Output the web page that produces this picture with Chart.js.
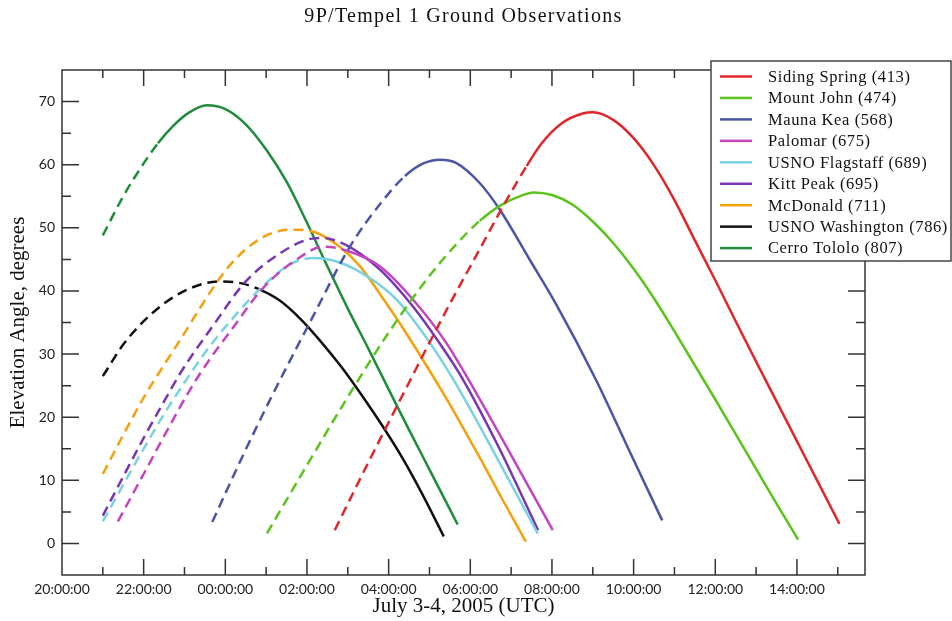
<!DOCTYPE html>
<html><head><meta charset="utf-8">
<script src="https://cdn.jsdelivr.net/npm/chart.js@4.4.0/dist/chart.umd.min.js"></script>
<style>html,body{margin:0;padding:0;background:#fff}canvas{display:block}</style>
</head><body>
<canvas id="c" width="952" height="621"></canvas>
<script>
// ---- data (x = hours after 20:00 UTC July 3, y = elevation degrees) ----
const chartTitle = '9P/Tempel 1 Ground Observations';
const xAxisTitle = 'July 3-4, 2005 (UTC)';
const yAxisTitle = 'Elevation Angle, degrees';
const stations = ['Siding Spring (413)', 'Mount John (474)', 'Mauna Kea (568)', 'Palomar (675)',
  'USNO Flagstaff (689)', 'Kitt Peak (695)', 'McDonald (711)', 'USNO Washington (786)', 'Cerro Tololo (807)'];
const colors = ['#e0262a', '#5cc21c', '#4a55a8', '#c244bf', '#78d2e2', '#7636b6', '#f5a00c', '#111111', '#1f8c3c'];
const xTickValues = [0, 2, 4, 6, 8, 10, 12, 14, 16, 18];
const yTickValues = [0, 10, 20, 30, 40, 50, 60, 70];

const sidingSpringT = [6.68, 7.5, 8.27, 9.42, 10.23, 10.75, 11.38, 11.75, 12.25, 12.75, 13.0, 13.5, 14.0, 14.5, 15.0, 15.5, 16.0, 16.5, 17.0, 17.5, 18.0, 18.5, 19.04];
const sidingSpringE = [2.1, 12.8, 22.6, 37.0, 46.6, 52.8, 59.8, 63.4, 66.6, 68.1, 68.3, 67.1, 64.2, 59.9, 54.4, 48.0, 41.7, 35.2, 28.8, 22.5, 16.2, 9.9, 3.1];
const mountJohnT = [5.02, 6.0, 7.0, 8.0, 9.0, 9.66, 10.23, 10.75, 11.25, 11.55, 12.0, 12.5, 13.0, 13.5, 14.0, 14.5, 15.0, 15.5, 16.0, 16.5, 17.0, 17.5, 18.03];
const mountJohnE = [1.6, 12.4, 23.2, 33.4, 42.4, 47.4, 51.1, 53.6, 55.1, 55.6, 55.2, 53.7, 51.0, 47.6, 43.5, 38.8, 33.6, 28.2, 22.8, 17.3, 11.8, 6.3, 0.6];
const maunaKeaT = [3.68, 4.4, 5.09, 6.15, 7.05, 7.87, 8.4, 8.85, 9.25, 9.65, 10.23, 10.72, 11.46, 12.11, 13.08, 13.9, 14.7];
const maunaKeaE = [3.4, 13.5, 22.7, 36.0, 47.0, 54.4, 58.2, 60.2, 60.8, 60.3, 57.1, 52.9, 44.9, 37.8, 25.9, 14.6, 3.65];
const palomarT = [1.37, 2.0, 2.5, 3.13, 3.6, 4.1, 4.93, 5.75, 6.4, 6.97, 7.78, 8.6, 9.42, 9.96, 11.0, 12.02];
const palomarE = [3.5, 11.0, 17.0, 24.3, 29.0, 33.4, 40.5, 45.0, 47.0, 46.4, 43.9, 38.6, 31.7, 25.9, 14.0, 2.1];
const flagstaffT = [1.0, 1.5, 2.0, 2.5, 3.0, 3.5, 4.0, 4.77, 5.58, 6.15, 6.8, 7.5, 8.2, 8.9, 9.59, 10.6, 11.65];
const flagstaffE = [3.5, 9.3, 15.0, 20.5, 25.5, 30.2, 34.3, 39.8, 44.2, 45.2, 44.5, 42.2, 38.6, 32.8, 25.9, 14.2, 1.6];
const kittPeakT = [1.0, 1.5, 2.0, 2.5, 2.9, 3.7, 4.5, 5.35, 6.0, 6.35, 6.95, 7.8, 8.6, 9.25, 9.8, 10.7, 11.66];
const kittPeakE = [4.4, 10.6, 16.7, 22.5, 27.0, 34.5, 41.5, 46.0, 48.1, 48.4, 47.3, 43.3, 37.5, 31.7, 26.2, 15.2, 2.1];
const mcDonaldT = [1.0, 1.5, 2.0, 2.5, 2.9, 3.4, 4.0, 4.5, 4.95, 5.4, 5.7, 6.2, 6.8, 7.3, 7.8, 8.3, 8.8, 9.3, 9.8, 10.3, 10.8, 11.36];
const mcDonaldE = [11.0, 17.2, 23.1, 28.3, 32.3, 37.5, 43.2, 46.6, 48.6, 49.6, 49.7, 49.3, 47.0, 43.9, 39.4, 34.6, 29.5, 24.2, 18.6, 12.8, 6.8, 0.3];
const washingtonT = [1.0, 1.5, 2.0, 2.5, 3.0, 3.5, 3.9, 4.4, 4.85, 5.35, 5.85, 6.35, 6.85, 7.35, 7.85, 8.35, 8.85, 9.35];
const washingtonE = [26.5, 31.5, 35.2, 38.0, 40.0, 41.2, 41.5, 41.2, 40.2, 38.4, 35.5, 31.9, 27.9, 23.4, 18.6, 13.4, 7.5, 1.1];
const cerroTololoT = [1.0, 1.5, 2.0, 2.35, 2.7, 3.1, 3.55, 4.0, 4.5, 5.0, 5.5, 6.0, 6.5, 7.0, 7.5, 8.0, 8.5, 9.0, 9.69];
const cerroTololoE = [48.8, 55.0, 60.2, 63.4, 66.0, 68.2, 69.4, 68.8, 66.4, 62.4, 57.3, 50.8, 43.9, 37.2, 30.9, 24.4, 18.0, 11.7, 3.0];

// time at which each curve changes from dashed to solid
const solidFrom = [11.38, 10.23, 8.4, 6.97, 6.15, 6.95, 6.2, 4.85, 2.35];

const seriesT = [sidingSpringT, mountJohnT, maunaKeaT, palomarT, flagstaffT, kittPeakT, mcDonaldT, washingtonT, cerroTololoT];
const seriesE = [sidingSpringE, mountJohnE, maunaKeaE, palomarE, flagstaffE, kittPeakE, mcDonaldE, washingtonE, cerroTololoE];

const SERIF = '"Liberation Serif", "Times New Roman", serif';
const SANS = 'Lato, "Open Sans", sans-serif';
const FRAME = '#333333';

const framePlugin = {
  id: 'frame',
  afterDatasetsDraw(chart) {
    const {ctx, chartArea: a, scales: {x, y}} = chart;
    ctx.save();
    ctx.strokeStyle = FRAME;
    ctx.lineWidth = 1.5;
    ctx.strokeRect(a.left, a.top, a.right - a.left, a.bottom - a.top);
    ctx.beginPath();
    for (let h = 1; h < x.max; h += 1) {
      const px = x.getPixelForValue(h);
      const len = h % 2 === 0 ? 16 : 8;
      ctx.moveTo(px, a.bottom); ctx.lineTo(px, a.bottom - len);
      ctx.moveTo(px, a.top); ctx.lineTo(px, a.top + len);
    }
    for (let v = 0; v < y.max; v += 5) {
      const py = y.getPixelForValue(v);
      const len = v % 10 === 0 ? 17 : 9;
      ctx.moveTo(a.left, py); ctx.lineTo(a.left + len, py);
      ctx.moveTo(a.right, py); ctx.lineTo(a.right - len, py);
    }
    ctx.stroke();
    ctx.restore();
  }
};

const titleLegendPlugin = {
  id: 'titleLegend',
  afterDraw(chart) {
    const {ctx, chartArea: a} = chart;
    ctx.save();
    ctx.fillStyle = '#111';
    ctx.font = '20px ' + SERIF;
    if ('letterSpacing' in ctx) ctx.letterSpacing = '1.3px';
    ctx.textAlign = 'center';
    ctx.textBaseline = 'middle';
    ctx.fillText(chartTitle, (a.left + a.right) / 2, 17);
    // legend box
    const bx = 711, by = 61, bw = 241, bh = 200;
    ctx.fillStyle = '#fff';
    ctx.fillRect(bx, by, bw, bh);
    ctx.strokeStyle = '#444';
    ctx.lineWidth = 1.5;
    ctx.strokeRect(bx, by, bw - 1, bh);
    ctx.font = '16.5px ' + SERIF;
    if ('letterSpacing' in ctx) ctx.letterSpacing = '0.6px';
    ctx.textAlign = 'left';
    chart.data.datasets.forEach((ds, i) => {
      const yy = 76.5 + i * 21.45;
      ctx.strokeStyle = ds.borderColor;
      ctx.lineWidth = 2.5;
      ctx.beginPath();
      ctx.moveTo(720, yy); ctx.lineTo(752, yy);
      ctx.stroke();
      ctx.fillStyle = '#111';
      ctx.fillText(ds.label, 768, yy + 1);
    });
    ctx.restore();
  }
};

new Chart(document.getElementById('c'), {
  type: 'line',
  data: {
    datasets: stations.map((name, i) => ({
      label: name,
      data: seriesT[i].map((t, j) => ({x: t, y: seriesE[i][j]})),
      borderColor: colors[i],
      backgroundColor: colors[i],
      borderWidth: 2.5,
      pointRadius: 0,
      fill: false,
      cubicInterpolationMode: 'monotone',
      segment: {
        borderDash: c => (c.p0.parsed.x < solidFrom[i] - 1e-9 ? [10, 6] : [])
      }
    }))
  },
  options: {
    responsive: false,
    animation: false,
    devicePixelRatio: 1,
    layout: {padding: {top: 70, right: 87, left: 0, bottom: 0}},
    plugins: {legend: {display: false}, title: {display: false}, tooltip: {enabled: false}},
    scales: {
      x: {
        type: 'linear', min: 0, max: 19.667,
        afterBuildTicks: s => { s.ticks = xTickValues.map(v => ({value: v})); },
        afterFit: s => { s.height = 46; },
        ticks: {
          autoSkip: false, maxRotation: 0, padding: 6, color: '#222',
          font: {family: SANS, size: 14},
          callback: v => String((20 + v) % 24).padStart(2, '0') + ':00:00'
        },
        grid: {display: false, drawTicks: false},
        border: {display: false},
        title: {display: true, text: xAxisTitle, color: '#111', font: {family: SERIF, size: 21}, padding: {top: 0, bottom: 2}}
      },
      y: {
        type: 'linear', min: -5, max: 75,
        afterBuildTicks: s => { s.ticks = yTickValues.map(v => ({value: v})); },
        afterFit: s => { s.width = 62; },
        ticks: {padding: 7, color: '#222', font: {family: SANS, size: 14}},
        grid: {display: false, drawTicks: false},
        border: {display: false},
        title: {display: true, text: yAxisTitle, color: '#111', font: {family: SERIF, size: 21}, padding: {top: 6, bottom: 0}}
      }
    }
  },
  plugins: [framePlugin, titleLegendPlugin]
});
</script>
</body></html>
